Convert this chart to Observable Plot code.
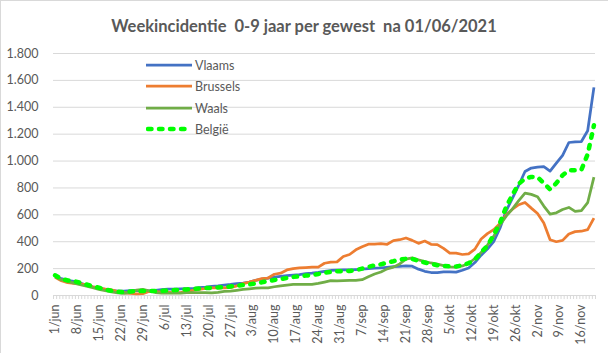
<!DOCTYPE html>
<html><head><meta charset="utf-8">
<script src="https://cdn.jsdelivr.net/npm/d3@7"></script>
<script src="https://cdn.jsdelivr.net/npm/@observablehq/plot@0.6"></script>
<style>
body{margin:0;background:#fff;}
#wrap{position:relative;width:608px;height:353px;overflow:hidden;font-family:Lato, sans-serif;background:#fff;}
#frame{position:absolute;left:0;top:0;width:700px;height:450px;border-top:1px solid #d9d9d9;border-left:1px solid #d9d9d9;pointer-events:none;}
#title{position:absolute;left:0;width:608px;top:16px;text-align:center;font-weight:bold;font-size:16.5px;color:#595959;white-space:pre;}
.leg{position:absolute;left:146px;height:20px;font-size:12.5px;color:#595959;display:flex;align-items:center;}
.leg svg{margin-right:3px;}
#chart svg{display:block;}
</style></head><body>
<div id="wrap"><div id="chart"></div><div id="title">Weekincidentie  0-9 jaar per gewest  na 01/06/2021</div><div id="legend"></div><div id="frame"></div></div>
<script>
// Series names and colours
const seriesNames = ["Vlaams", "Brussels", "Waals", "België"];
const seriesColors = ["#4472c4", "#ed7d31", "#70ad47", "#00ff00"];

// Week tick labels (every 7 days from 1 June 2021)
const weekLabels = ["1/jun","8/jun","15/jun","22/jun","29/jun","6/jul","13/jul","20/jul","27/jul","3/aug","10/aug","17/aug","24/aug","31/aug","7/sep","14/sep","21/sep","28/sep","5/okt","12/okt","19/okt","26/okt","2/nov","9/nov","16/nov"];

// Y-axis ticks
const yTicks = [0,200,400,600,800,1000,1200,1400,1600,1800];

// Values, every second day from 1 June 2021 to 20 November 2021
const vlaams = [145,125,112,105,92,78,65,55,45,38,33,32,36,38,36,35,38,44,48,48,50,52,52,58,62,68,72,78,82,88,92,99,112,122,130,136,142,147,152,156,162,166,172,180,186,188,190,191,193,196,199,204,206,210,214,216,220,218,196,180,171,171,176,175,174,188,205,245,300,345,400,500,630,725,820,922,948,955,958,925,985,1043,1138,1142,1145,1225,1548];
const brussels = [135,110,95,90,86,80,65,55,48,42,30,22,15,13,14,30,28,25,23,22,22,30,38,45,52,57,57,57,58,72,88,99,112,125,130,158,166,190,200,205,208,211,211,240,248,250,290,305,340,362,382,383,385,381,408,415,428,410,388,405,381,378,350,315,315,305,310,345,420,460,490,535,600,642,675,692,650,610,540,415,400,410,458,475,478,490,576];
const waals = [140,118,105,92,80,70,58,46,36,27,20,15,22,40,45,35,22,18,17,17,18,22,22,22,21,20,24,30,32,38,45,50,54,56,57,65,72,78,82,82,82,83,90,100,110,108,111,112,112,118,140,160,175,198,211,235,270,280,265,253,242,233,222,213,211,220,238,275,320,375,440,525,590,645,705,762,752,735,665,605,615,640,655,626,632,690,881];
const belgie = [150,125,112,108,95,82,68,58,45,35,28,25,30,32,33,33,33,35,38,40,42,45,48,52,55,57,60,62,67,72,78,82,90,98,108,115,122,130,138,144,148,152,160,170,176,181,181,183,188,200,212,225,232,245,255,268,273,272,258,245,236,225,220,216,216,224,240,268,320,370,450,540,660,750,830,870,882,880,835,790,835,895,931,931,935,1050,1266];

const allValues = [vlaams, brussels, waals, belgie];

const start = new Date(Date.UTC(2021, 5, 1));
const dates = d3.range(0, 173, 2).map(i => d3.utcDay.offset(start, i));
const weekDates = weekLabels.map((_, i) => d3.utcDay.offset(start, i * 7));
const labelMap = new Map(weekDates.map((d, i) => [+d, weekLabels[i]]));
const halfDay = 12 * 3600 * 1000;
const lastDay = d3.utcDay.offset(start, 172);
const boundaries = d3.range(0, 174).map(i => new Date(+d3.utcDay.offset(start, i) - halfDay));

const rows = [];
allValues.forEach((vals, s) => vals.forEach((v, i) => rows.push({date: dates[i], value: v, name: seriesNames[s]})));

const lineMarks = seriesNames.map((name, s) => Plot.line(rows.filter(r => r.name === name), {
  x: "date", y: "value", stroke: seriesColors[s],
  strokeWidth: s === 3 ? 4.5 : 2.75,
  strokeDasharray: s === 3 ? "3.5,7.5" : null,
  strokeLinecap: s === 3 ? "round" : "butt",
  strokeLinejoin: "round"
}));

const chart = Plot.plot({
  width: 608, height: 353,
  marginLeft: 53, marginRight: 13, marginTop: 53, marginBottom: 58,
  style: {fontFamily: "Lato, sans-serif", fontSize: "12.5px", color: "#595959", background: "transparent"},
  x: {type: "utc", domain: [new Date(+start - halfDay), new Date(+lastDay + halfDay)]},
  y: {domain: [0, 1800]},
  marks: [
    Plot.gridY(yTicks.filter(d => d > 0), {stroke: "#d9d9d9", strokeOpacity: 1, strokeWidth: 1}),
    Plot.axisY(yTicks, {tickSize: 0, tickPadding: 15, label: null, fill: "#595959",
      tickFormat: d => d3.format(",")(d).replace(/,/g, ".")}),
    Plot.ruleY([0], {stroke: "#d9d9d9", strokeWidth: 1}),
    Plot.axisX(boundaries, {tickSize: 4, tickFormat: () => "", stroke: "#d9d9d9", label: null}),
    Plot.axisX(weekDates, {tickSize: 0, tickPadding: 9, tickRotate: -90, label: null, fill: "#595959",
      tickFormat: d => labelMap.get(+d)}),
    ...lineMarks
  ]
});
document.getElementById("chart").appendChild(chart);

// Legend
const legendTops = [55, 76, 98, 119];
const legend = document.getElementById("legend");
seriesNames.forEach((name, s) => {
  const div = document.createElement("div");
  div.className = "leg";
  div.style.top = legendTops[s] + "px";
  const dash = s === 3 ? 'stroke-dasharray="3.5,7.5" stroke-linecap="round"' : '';
  div.innerHTML = `<svg width="46" height="20"><line x1="${s===3?2:0}" x2="${s===3?44:46}" y1="10" y2="10" stroke="${seriesColors[s]}" stroke-width="${s===3?4.5:2.75}" ${dash}/></svg><span>${name}</span>`;
  legend.appendChild(div);
});
</script>
</body></html>
